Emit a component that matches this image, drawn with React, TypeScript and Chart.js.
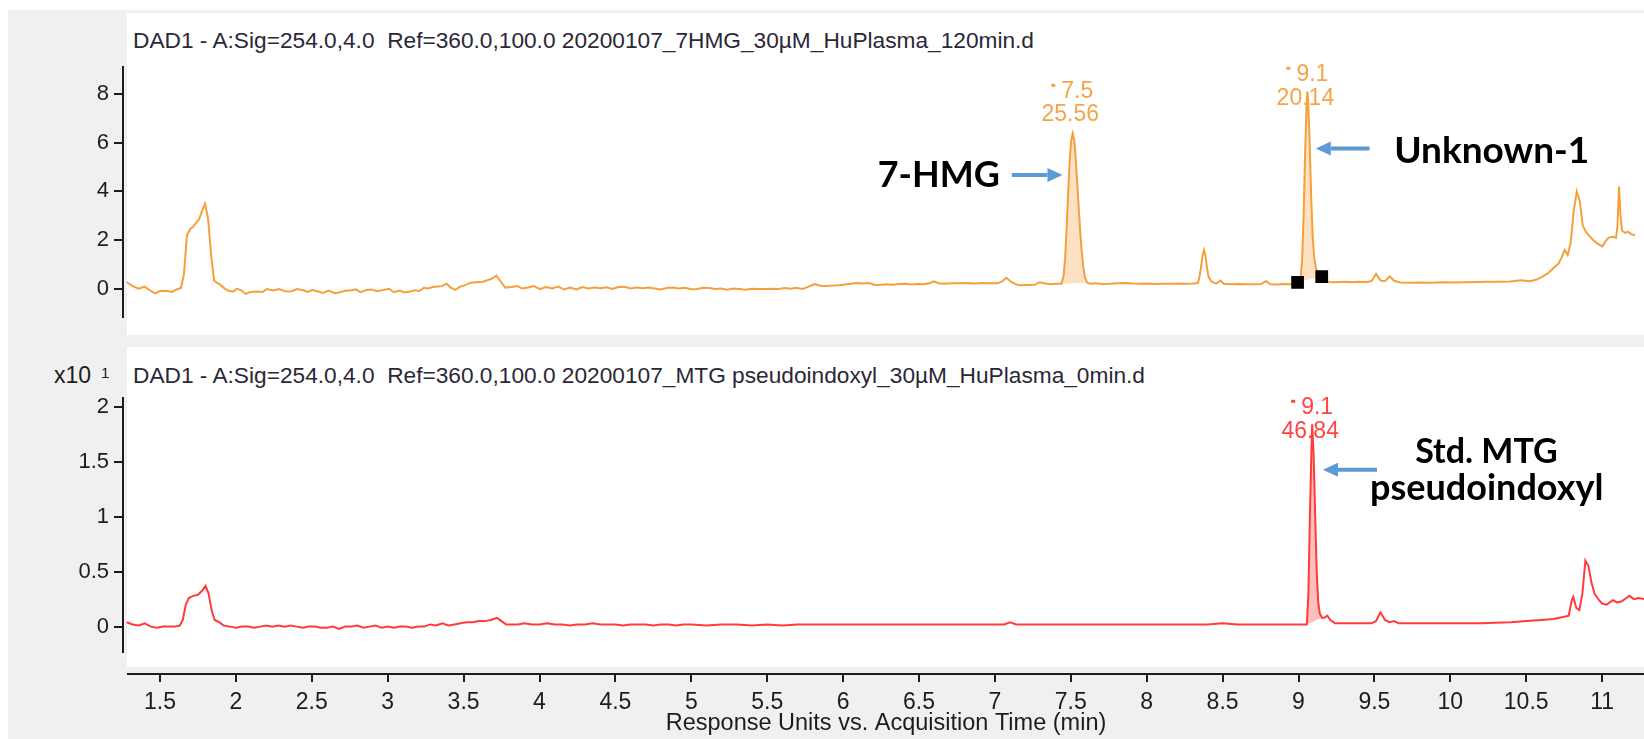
import React, { useEffect, useRef } from "react";
import { Chart, registerables } from "chart.js";

Chart.register(...registerables);

const FONT = '"Liberation Sans", Arial, sans-serif';
const BOLD_FONT = 'Lato, "Open Sans", sans-serif';
const ORANGE = "#F5A03C";
const ORANGE_FILL = "rgba(247,168,80,0.35)";
const RED = "#FF3B3B";
const RED_FILL = "rgba(255,70,70,0.35)";
const ARROW = "#5B9BD5";
const INK = "#1c1c1c";

// ---------- data ----------
const xTicks = [1.5, 2, 2.5, 3, 3.5, 4, 4.5, 5, 5.5, 6, 6.5, 7, 7.5, 8, 8.5, 9, 9.5, 10, 10.5, 11];
const topYTicks = [0, 2, 4, 6, 8];
const botYTicks = [0, 0.5, 1, 1.5, 2];

const topTime = [
  1.28, 1.32, 1.36, 1.4, 1.44, 1.47, 1.5, 1.54, 1.58, 1.61, 1.64, 1.66, 1.68, 1.7, 1.72, 1.74, 1.76, 1.78, 1.8, 1.82,
  1.84, 1.86, 1.88, 1.9, 1.93, 1.96, 1.99, 2.01, 2.04, 2.07, 2.1, 2.14, 2.18, 2.21, 2.25, 2.29, 2.33, 2.37, 2.41, 2.45,
  2.48, 2.51, 2.55, 2.58, 2.62, 2.66, 2.7, 2.73, 2.77, 2.8, 2.83, 2.87, 2.9, 2.94, 2.98, 3.02, 3.05, 3.09, 3.12, 3.16,
  3.19, 3.22, 3.25, 3.28, 3.31, 3.34, 3.37, 3.4, 3.43, 3.46, 3.49, 3.52, 3.56, 3.6, 3.64, 3.67, 3.7, 3.73, 3.76, 3.79,
  3.83, 3.87, 3.9, 3.94, 3.98, 4.02, 4.06, 4.1, 4.14, 4.18, 4.22, 4.26, 4.3, 4.34, 4.38, 4.42, 4.46, 4.5, 4.54, 4.58,
  4.62, 4.66, 4.7, 4.74, 4.78, 4.82, 4.86, 4.9, 4.94, 4.98, 5.02, 5.06, 5.1, 5.14, 5.18, 5.22, 5.26, 5.3, 5.34, 5.38,
  5.42, 5.46, 5.5, 5.55, 5.6, 5.64, 5.68, 5.72, 5.76, 5.8, 5.84, 5.88, 5.92, 5.96, 6.0, 6.04, 6.08, 6.12, 6.16, 6.2,
  6.24, 6.28, 6.32, 6.36, 6.4, 6.44, 6.48, 6.52, 6.56, 6.6, 6.63, 6.66, 6.7, 6.75, 6.8, 6.85, 6.9, 6.95, 7.0, 7.05,
  7.08, 7.11, 7.14, 7.17, 7.2, 7.25, 7.3, 7.33, 7.36, 7.4, 7.44, 7.475, 7.49, 7.5, 7.51, 7.52, 7.53, 7.54, 7.55, 7.56,
  7.57, 7.58, 7.59, 7.6, 7.61, 7.62, 7.63, 7.645, 7.67, 7.7, 7.75, 7.8, 7.85, 7.9, 7.95, 8.0, 8.05, 8.1, 8.15, 8.2,
  8.25, 8.3, 8.35, 8.38, 8.39, 8.4, 8.41, 8.42, 8.43, 8.44, 8.45, 8.47, 8.5, 8.53, 8.55, 8.6, 8.65, 8.7, 8.75, 8.8,
  8.83, 8.86, 8.9, 8.95, 9.0, 9.04, 9.06, 9.07, 9.08, 9.09, 9.1, 9.105, 9.11, 9.12, 9.13, 9.14, 9.15, 9.16, 9.175, 9.19,
  9.21, 9.25, 9.3, 9.35, 9.4, 9.45, 9.5, 9.53, 9.56, 9.59, 9.62, 9.65, 9.68, 9.72, 9.78, 9.85, 9.92, 10.0, 10.08, 10.15,
  10.22, 10.3, 10.38, 10.45, 10.52, 10.58, 10.62, 10.66, 10.7, 10.74, 10.77, 10.79, 10.81, 10.83, 10.85, 10.87, 10.89, 10.91, 10.93, 10.95,
  10.97, 11.0, 11.03, 11.06, 11.08, 11.1, 11.13, 11.15, 11.16, 11.17, 11.18, 11.19, 11.21, 11.23, 11.25, 11.28,
];
const topSignal = [
  0.29, 0.12, 0.02, 0.1, -0.08, -0.18, -0.08, -0.07, -0.12, -0.02, 0.04, 0.6, 2.2, 2.45, 2.55, 2.7, 2.85, 3.2, 3.5, 2.9,
  1.4, 0.35, 0.25, 0.18, 0.02, -0.08, -0.1, 0.02, -0.05, -0.2, -0.12, -0.1, -0.12, 0.0, -0.06, 0.0, -0.09, -0.1, 0.0, -0.05,
  -0.12, -0.04, -0.1, -0.16, -0.06, -0.17, -0.12, -0.07, -0.05, -0.01, -0.13, -0.04, -0.02, -0.09, -0.04, 0.01, -0.13, -0.06, -0.14, -0.1,
  -0.05, -0.08, 0.05, 0.02, 0.08, 0.1, 0.12, 0.22, 0.05, -0.03, 0.1, 0.15, 0.26, 0.28, 0.3, 0.36, 0.42, 0.55, 0.3, 0.06,
  0.08, 0.12, 0.02, 0.06, 0.12, 0.0, 0.08, 0.02, 0.1, -0.02, 0.06, -0.02, 0.08, 0.02, 0.06, 0.03, 0.07, 0.0, 0.08, 0.09,
  0.02, 0.06, 0.03, 0.06, 0.02, -0.02, 0.04, 0.06, 0.02, 0.05, -0.01, 0.0, 0.05, 0.04, 0.0, 0.02, -0.03, 0.02, 0.0, -0.03,
  0.01, 0.0, 0.0, 0.01, 0.0, 0.04, 0.01, 0.05, 0.0, 0.1, 0.2, 0.14, 0.13, 0.15, 0.16, 0.19, 0.22, 0.25, 0.23, 0.25,
  0.17, 0.18, 0.2, 0.18, 0.21, 0.22, 0.19, 0.21, 0.2, 0.24, 0.32, 0.24, 0.22, 0.24, 0.24, 0.25, 0.23, 0.25, 0.24, 0.24,
  0.3, 0.46, 0.3, 0.2, 0.16, 0.17, 0.18, 0.28, 0.24, 0.2, 0.22, 0.22, 0.55, 1.3, 2.6, 4.0, 5.3, 6.1, 6.38, 6.1,
  5.3, 4.3, 3.3, 2.3, 1.5, 0.9, 0.5, 0.26, 0.22, 0.24, 0.21, 0.22, 0.24, 0.25, 0.23, 0.22, 0.23, 0.21, 0.22, 0.22,
  0.23, 0.22, 0.23, 0.25, 0.5, 0.9, 1.35, 1.6, 1.35, 0.85, 0.5, 0.3, 0.22, 0.35, 0.22, 0.2, 0.21, 0.2, 0.2, 0.21,
  0.32, 0.2, 0.19, 0.21, 0.2, 0.26, 0.4, 1.2, 3.0, 5.6, 7.6, 8.1, 7.7, 6.0, 3.8, 2.2, 1.3, 0.9, 0.65, 0.52,
  0.35, 0.29, 0.28, 0.3, 0.28, 0.3, 0.29, 0.33, 0.62, 0.35, 0.32, 0.52, 0.34, 0.27, 0.26, 0.27, 0.26, 0.28, 0.27, 0.28,
  0.29, 0.3, 0.3, 0.31, 0.36, 0.32, 0.38, 0.5, 0.65, 0.88, 1.05, 1.3, 1.6, 1.4, 1.9, 3.2, 4.0, 3.6, 2.6, 2.35,
  2.2, 2.0, 1.85, 1.75, 1.95, 2.1, 2.15, 2.1, 2.6, 4.2, 3.0, 2.4, 2.3, 2.35, 2.25, 2.2,
];

const botTime = [
  1.28, 1.32, 1.36, 1.4, 1.44, 1.48, 1.52, 1.56, 1.6, 1.63, 1.65, 1.67, 1.69, 1.72, 1.75, 1.78, 1.8, 1.82, 1.84, 1.86,
  1.89, 1.92, 1.96, 2.0, 2.04, 2.08, 2.12, 2.16, 2.2, 2.24, 2.28, 2.32, 2.36, 2.4, 2.44, 2.48, 2.52, 2.56, 2.6, 2.64,
  2.68, 2.72, 2.76, 2.8, 2.84, 2.88, 2.92, 2.96, 3.0, 3.04, 3.08, 3.12, 3.16, 3.2, 3.24, 3.28, 3.32, 3.36, 3.4, 3.44,
  3.48, 3.52, 3.56, 3.6, 3.64, 3.68, 3.72, 3.75, 3.78, 3.82, 3.86, 3.9, 3.95, 4.0, 4.05, 4.1, 4.15, 4.2, 4.25, 4.3,
  4.35, 4.4, 4.45, 4.5, 4.55, 4.6, 4.65, 4.7, 4.75, 4.8, 4.85, 4.9, 4.95, 5.0, 5.1, 5.2, 5.3, 5.4, 5.5, 5.6,
  5.7, 5.8, 5.9, 6.0, 6.1, 6.2, 6.3, 6.4, 6.5, 6.6, 6.7, 6.8, 6.9, 7.0, 7.06, 7.1, 7.14, 7.2, 7.3, 7.4,
  7.5, 7.6, 7.7, 7.8, 7.9, 8.0, 8.1, 8.2, 8.3, 8.4, 8.5, 8.6, 8.7, 8.8, 8.9, 9.0, 9.055, 9.065, 9.075, 9.085,
  9.09, 9.1, 9.11, 9.12, 9.13, 9.14, 9.155, 9.17, 9.19, 9.21, 9.24, 9.3, 9.4, 9.48, 9.51, 9.54, 9.57, 9.6, 9.63, 9.66,
  9.72, 9.8, 9.9, 10.0, 10.1, 10.2, 10.3, 10.4, 10.5, 10.6, 10.68, 10.75, 10.78, 10.8, 10.81, 10.83, 10.85, 10.87, 10.89, 10.91,
  10.93, 10.95, 10.98, 11.0, 11.03, 11.07, 11.1, 11.13, 11.16, 11.18, 11.21, 11.24, 11.28,
];
const botSignal = [
  0.04, 0.02, 0.01, 0.03, 0.0, -0.01, 0.0, 0.0, 0.0, 0.01, 0.06, 0.2, 0.26, 0.28, 0.29, 0.33, 0.37, 0.3, 0.15, 0.06,
  0.04, 0.01, 0.0, -0.01, 0.0, 0.0, -0.01, 0.0, 0.01, 0.0, 0.01, 0.0, 0.01, 0.0, -0.01, 0.0, 0.0, -0.01, -0.01, 0.0,
  -0.02, 0.0, 0.0, 0.01, -0.01, 0.0, 0.01, -0.01, 0.0, -0.01, 0.0, 0.0, -0.01, 0.0, 0.0, 0.02, 0.01, 0.03, 0.01, 0.02,
  0.03, 0.04, 0.04, 0.05, 0.05, 0.06, 0.08, 0.05, 0.02, 0.02, 0.02, 0.03, 0.02, 0.02, 0.03, 0.02, 0.02, 0.01, 0.02, 0.02,
  0.03, 0.02, 0.02, 0.02, 0.01, 0.02, 0.02, 0.02, 0.01, 0.02, 0.02, 0.01, 0.02, 0.02, 0.01, 0.02, 0.02, 0.01, 0.02, 0.01,
  0.02, 0.02, 0.02, 0.02, 0.02, 0.02, 0.02, 0.02, 0.02, 0.02, 0.02, 0.02, 0.02, 0.02, 0.02, 0.04, 0.02, 0.02, 0.02, 0.02,
  0.02, 0.02, 0.02, 0.02, 0.02, 0.02, 0.02, 0.02, 0.02, 0.02, 0.03, 0.02, 0.02, 0.02, 0.02, 0.02, 0.02, 0.3, 1.0, 1.6,
  1.84, 1.55, 1.0, 0.5, 0.22, 0.12, 0.08, 0.08, 0.1, 0.06, 0.03, 0.03, 0.03, 0.03, 0.05, 0.13, 0.06, 0.04, 0.05, 0.03,
  0.03, 0.03, 0.03, 0.03, 0.03, 0.03, 0.035, 0.04, 0.05, 0.06, 0.07, 0.09, 0.1, 0.24, 0.27, 0.17, 0.15, 0.3, 0.6, 0.55,
  0.4, 0.3, 0.24, 0.21, 0.2, 0.24, 0.22, 0.23, 0.26, 0.28, 0.25, 0.26, 0.25,
];

// integrated peaks: [start, end] and baseline values at the ends
const topPeakWindows = [[7.475, 7.645], [9.04, 9.19]];
const topPeakBaseline = [[0.22, 0.26], [0.27, 0.51]];
const botPeakWindows = [[9.055, 9.155]];
const botPeakBaseline = [[0.02, 0.08]];

// peak start / end markers (top trace)
const markerTime = [9.04, 9.2];
const markerSignal = [0.27, 0.51];

// peak labels: retention time and area
const topPeakRT = [7.547, 9.105];
const topPeakRTText = ["7.5", "9.1"];
const topPeakAreaText = ["25.56", "20.14"];
const botPeakRT = [9.09];
const botPeakRTText = ["9.1"];
const botPeakAreaText = ["46.84"];

// ---------- helpers ----------
type P = { x: number; y: number };
const pts = (ts: number[], vs: number[]): P[] => ts.map((t, i) => ({ x: t, y: vs[i] }));
const windowPts = (ts: number[], vs: number[], a: number, b: number): P[] =>
  pts(ts, vs).filter((p) => p.x >= a - 1e-9 && p.x <= b + 1e-9);

const X_MIN = 1.2563;
const X_MAX = 11.276;
const X_AXIS_MIN = 1.2892;

function annotPlugin(id: string, cfg: any) {
  return {
    id,
    beforeDatasetsDraw(chart: any) {
      const ctx = chart.ctx;
      const xs = chart.scales.x;
      const ys = chart.scales.y;
      ctx.save();
      ctx.fillStyle = cfg.labelColor;
      ctx.font = `23px ${FONT}`;
      ctx.textBaseline = "middle";
      cfg.labels.forEach((l: any) => {
        const px = xs.getPixelForValue(l.t);
        const y1 = ys.getPixelForValue(l.yRt);
        const w = ctx.measureText(l.rt).width;
        const total = 4 + 6 + w;
        const left = px - total / 2;
        ctx.fillRect(left, y1 - 8, 4, 3);
        ctx.textAlign = "left";
        ctx.fillText(l.rt, left + 10, y1);
        ctx.textAlign = "center";
        ctx.fillText(l.area, px - 2, ys.getPixelForValue(l.yArea));
      });
      ctx.restore();
    },
    afterDatasetsDraw(chart: any) {
      const ctx = chart.ctx;
      const xs = chart.scales.x;
      const ys = chart.scales.y;
      ctx.save();
      ctx.fillStyle = "#000";
      ctx.textBaseline = "alphabetic";
      cfg.notes.forEach((n: any) => {
        ctx.font = `bold ${n.size}px ${BOLD_FONT}`;
        ctx.textAlign = n.align;
        ctx.fillText(n.text, xs.getPixelForValue(n.x), ys.getPixelForValue(n.y));
      });
      ctx.strokeStyle = ARROW;
      ctx.fillStyle = ARROW;
      ctx.lineWidth = 4;
      cfg.arrows.forEach((a: any) => {
        const x1 = xs.getPixelForValue(a.x1);
        const x2 = xs.getPixelForValue(a.x2);
        const y = ys.getPixelForValue(a.y);
        const dir = Math.sign(x2 - x1);
        const head = 15;
        ctx.beginPath();
        ctx.moveTo(x1, y);
        ctx.lineTo(x2 - dir * head, y);
        ctx.stroke();
        ctx.beginPath();
        ctx.moveTo(x2, y);
        ctx.lineTo(x2 - dir * head, y - 7);
        ctx.lineTo(x2 - dir * head, y + 7);
        ctx.closePath();
        ctx.fill();
      });
      ctx.restore();
    },
  };
}

const yAxis = (min: number, max: number, ticks: number[]) => ({
  type: "linear",
  min,
  max,
  afterBuildTicks: (s: any) => {
    s.ticks = ticks.map((v) => ({ value: v }));
  },
  afterFit: (s: any) => {
    s.width = 123;
  },
  border: { display: true, color: INK, width: 2 },
  grid: { display: true, drawOnChartArea: false, drawTicks: true, tickLength: 9, color: INK, lineWidth: 2 },
  ticks: { color: INK, padding: 5, font: { family: FONT, size: 22 }, callback: (v: any) => String(v) },
});

function traceDatasets(ts: number[], vs: number[], color: string, fillColor: string, windows: number[][], bases: number[][]) {
  const ds: any[] = [
    { data: pts(ts, vs), borderColor: color, borderWidth: 2, pointRadius: 0, fill: false, tension: 0, order: 0 },
  ];
  windows.forEach((w, i) => {
    const baseIndex = ds.length + 1;
    ds.push({
      data: windowPts(ts, vs, w[0], w[1]),
      borderColor: "rgba(0,0,0,0)",
      borderWidth: 0,
      pointRadius: 0,
      backgroundColor: fillColor,
      fill: { target: baseIndex },
      order: 2,
    });
    ds.push({
      data: [
        { x: w[0], y: bases[i][0] },
        { x: w[1], y: bases[i][1] },
      ],
      borderColor: "rgba(0,0,0,0)",
      borderWidth: 0,
      pointRadius: 0,
      fill: false,
      order: 3,
    });
  });
  return ds;
}

export default function App() {
  const topRef = useRef<HTMLCanvasElement>(null);
  const botRef = useRef<HTMLCanvasElement>(null);
  const axRef = useRef<HTMLCanvasElement>(null);

  useEffect(() => {
    const common: any = {
      animation: false,
      responsive: false,
      events: [],
      plugins: { legend: { display: false }, tooltip: { enabled: false } },
    };

    const topDs = traceDatasets(topTime, topSignal, ORANGE, ORANGE_FILL, topPeakWindows, topPeakBaseline);
    topDs.push({
      data: pts(markerTime, markerSignal),
      showLine: false,
      pointStyle: "rect",
      pointRadius: 9,
      pointBackgroundColor: "#000",
      pointBorderColor: "#000",
      pointBorderWidth: 0,
      order: -1,
    });

    const top = new Chart(topRef.current as HTMLCanvasElement, {
      type: "line",
      data: { datasets: topDs },
      options: {
        ...common,
        layout: { padding: { top: 67, bottom: 7, left: 0, right: 0 } },
        scales: {
          x: { type: "linear", min: X_MIN, max: X_MAX, display: false },
          y: yAxis(-1.137, 9.098, topYTicks),
        },
      } as any,
      plugins: [
        annotPlugin("topAnnot", {
          labelColor: "#F5A447",
          labels: topPeakRT.map((t, i) => ({
            t,
            rt: topPeakRTText[i],
            area: topPeakAreaText[i],
            yRt: i === 0 ? 8.08 : 8.78,
            yArea: i === 0 ? 7.14 : 7.8,
          })),
          notes: [
            { text: "7-HMG", x: 7.067, y: 4.2, align: "right", size: 36 },
            { text: "Unknown-1", x: 9.68, y: 5.18, align: "left", size: 37 },
          ],
          arrows: [
            { x1: 7.146, x2: 7.482, y: 4.67 },
            { x1: 9.517, x2: 9.161, y: 5.76 },
          ],
        }),
      ],
    });

    const bot = new Chart(botRef.current as HTMLCanvasElement, {
      type: "line",
      data: { datasets: traceDatasets(botTime, botSignal, RED, RED_FILL, botPeakWindows, botPeakBaseline) },
      options: {
        ...common,
        layout: { padding: { top: 58, bottom: 10, left: 0, right: 0 } },
        scales: {
          x: { type: "linear", min: X_MIN, max: X_MAX, display: false },
          y: yAxis(-0.229, 2.079, botYTicks),
        },
      } as any,
      plugins: [
        annotPlugin("botAnnot", {
          labelColor: "#FF4444",
          labels: botPeakRT.map((t, i) => ({
            t,
            rt: botPeakRTText[i],
            area: botPeakAreaText[i],
            yRt: 1.99,
            yArea: 1.77,
          })),
          notes: [
            { text: "Std. MTG", x: 10.238, y: 1.49, align: "center", size: 34 },
            { text: "pseudoindoxyl", x: 10.24, y: 1.155, align: "center", size: 36 },
          ],
          arrows: [{ x1: 9.517, x2: 9.161, y: 1.427 }],
        }),
      ],
    });

    const ax = new Chart(axRef.current as HTMLCanvasElement, {
      type: "line",
      data: { datasets: [] },
      options: {
        ...common,
        layout: { padding: { top: 10, bottom: 0, left: 128, right: 0 } },
        scales: {
          y: { display: false, min: 0, max: 1 },
          x: {
            type: "linear",
            position: "bottom",
            min: X_AXIS_MIN,
            max: X_MAX,
            afterBuildTicks: (s: any) => {
              s.ticks = xTicks.map((v) => ({ value: v }));
            },
            afterFit: (s: any) => {
              s.height = 65;
            },
            border: { display: true, color: INK, width: 2 },
            grid: { display: true, drawOnChartArea: false, drawTicks: true, tickLength: 8, color: INK, lineWidth: 2 },
            ticks: {
              color: INK,
              padding: 7,
              maxRotation: 0,
              autoSkip: false,
              font: { family: FONT, size: 23 },
              callback: (v: any) => String(v),
            },
            title: {
              display: true,
              text: "Response Units vs. Acquisition Time (min)",
              color: INK,
              font: { family: FONT, size: 23.5 },
              padding: { top: 0, bottom: 1 },
            },
          },
        },
      } as any,
    });

    return () => {
      top.destroy();
      bot.destroy();
      ax.destroy();
    };
  }, []);

  const titleStyle: React.CSSProperties = {
    position: "absolute",
    left: 133,
    fontSize: 22.7,
    lineHeight: "26px",
    whiteSpace: "nowrap",
    color: "#2a2838",
    fontFamily: FONT,
  };

  return (
    <div
      style={{
        position: "fixed",
        left: 0,
        top: 0,
        width: 1644,
        height: 739,
        background: "#fff",
        overflow: "hidden",
        fontFamily: FONT,
      }}
    >
      <div style={{ position: "absolute", left: 8, top: 10, right: 0, bottom: 0, background: "#f0f0f0" }} />
      <div style={{ position: "absolute", left: 127, top: 13, width: 1517, height: 322, background: "#fff" }} />
      <div style={{ position: "absolute", left: 127, top: 347, width: 1517, height: 320, background: "#fff" }} />
      <div style={{ ...titleStyle, top: 27 }}>
        DAD1 - A:Sig=254.0,4.0&nbsp; Ref=360.0,100.0 20200107_7HMG_30µM_HuPlasma_120min.d
      </div>
      <div style={{ ...titleStyle, top: 362 }}>
        DAD1 - A:Sig=254.0,4.0&nbsp; Ref=360.0,100.0 20200107_MTG pseudoindoxyl_30µM_HuPlasma_0min.d
      </div>
      <div style={{ ...titleStyle, left: 54, top: 362, color: INK, fontSize: 23 }}>
        x10<span style={{ fontSize: 15, position: "relative", top: -5, marginLeft: 10 }}>1</span>
      </div>
      <canvas ref={topRef} width={1644} height={335} style={{ position: "absolute", left: 0, top: 0 }} />
      <canvas ref={botRef} width={1644} height={330} style={{ position: "absolute", left: 0, top: 340 }} />
      <canvas ref={axRef} width={1644} height={79} style={{ position: "absolute", left: 0, top: 660 }} />
    </div>
  );
}
